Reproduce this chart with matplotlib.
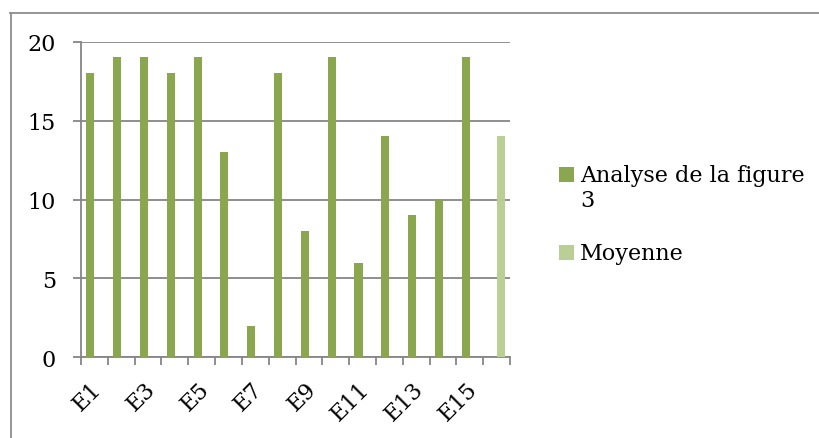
import matplotlib
matplotlib.use('Agg')
import matplotlib.pyplot as plt
import matplotlib.transforms as mtransforms
import numpy as np
from matplotlib.lines import Line2D
from matplotlib.patches import Rectangle

# ---- data ----
categories = ["E1", "E2", "E3", "E4", "E5", "E6", "E7", "E8",
              "E9", "E10", "E11", "E12", "E13", "E14", "E15", "E16"]
analyse = [18, 19, 19, 18, 19, 13, 2, 18, 8, 19, 6, 14, 9, 10, 19, np.nan]
moyenne = [np.nan] * 15 + [14]
shown_labels = ["E1", "E3", "E5", "E7", "E9", "E11", "E13", "E15"]
yticks = [0, 5, 10, 15, 20]
series_names = ["Analyse de la figure\n3", "Moyenne"]
series_colors = ['#8AA64F', '#B9CF95']

plt.rcParams['font.family'] = ['DejaVu Serif']
FS = 16
GRAY = '#868686'

W, H = 819, 439
fig = plt.figure(figsize=(W / 100, H / 100), dpi=100)
ax = fig.add_axes([81 / W, 1 - 358.3 / H, 429 / W, (358.3 - 42.7) / H])

x = np.arange(len(categories))
w = 0.3
ax.bar(x - w / 2, analyse, w, color=series_colors[0], label=series_names[0], zorder=3)
ax.bar(x + w / 2, moyenne, w, color=series_colors[1], label=series_names[1], zorder=3)

ax.set_xlim(-0.5, len(categories) - 0.5)
ax.set_ylim(0, 20)
ax.set_yticks(yticks)
ax.set_yticklabels([str(v) for v in yticks])
ax.yaxis.grid(True, color=GRAY, lw=1.3, zorder=1)
ax.set_axisbelow(True)

for s in ['top', 'right']:
    ax.spines[s].set_visible(False)
for s in ['left', 'bottom']:
    ax.spines[s].set_color(GRAY)
    ax.spines[s].set_linewidth(1.3)

ax.tick_params(axis='y', length=6, width=1.3, color=GRAY, pad=12, labelsize=FS)

# category boundary ticks
ax.set_xticks(np.arange(-0.5, len(categories), 1), minor=True)
ax.tick_params(axis='x', which='minor', length=6, width=1.3, color=GRAY, direction='out')
lab_pos = [categories.index(c) for c in shown_labels]
ax.set_xticks(lab_pos)
ax.set_xticklabels(shown_labels, rotation=45, ha='right', va='center',
                   rotation_mode='anchor', fontsize=FS)
ax.tick_params(axis='x', which='major', length=0, pad=20)
offset = mtransforms.ScaledTranslation(4 / 100, 0, fig.dpi_scale_trans)
for lab in ax.get_xticklabels():
    lab.set_transform(lab.get_transform() + offset)

# legend (square swatch aligned with the first text line, as in the original)
sq = 14.5
legend_rows = [(168.0, 181.7), (246.0, 260.0)]  # (swatch top, text baseline) in px
for (top, base), name, col in zip(legend_rows, series_names, series_colors):
    fig.add_artist(Rectangle((559 / W, 1 - (top + sq) / H), sq / W, sq / H,
                             transform=fig.transFigure, color=col, lw=0))
    lines = name.split("\n")
    for k, line in enumerate(lines):
        fig.text(580 / W, 1 - (base + 25 * k) / H, line, fontsize=FS,
                 ha='left', va='baseline')

# outer chart frame (top and left edges visible)
fig.add_artist(Line2D([10 / W, 1.0], [1 - 13.5 / H, 1 - 13.5 / H],
                      transform=fig.transFigure, color='#8C8C8C', lw=1.3))
fig.add_artist(Line2D([10.5 / W, 10.5 / W], [1 - 13.5 / H, 0.0],
                      transform=fig.transFigure, color='#8C8C8C', lw=1.3))

fig.savefig('out.png', dpi=100)
